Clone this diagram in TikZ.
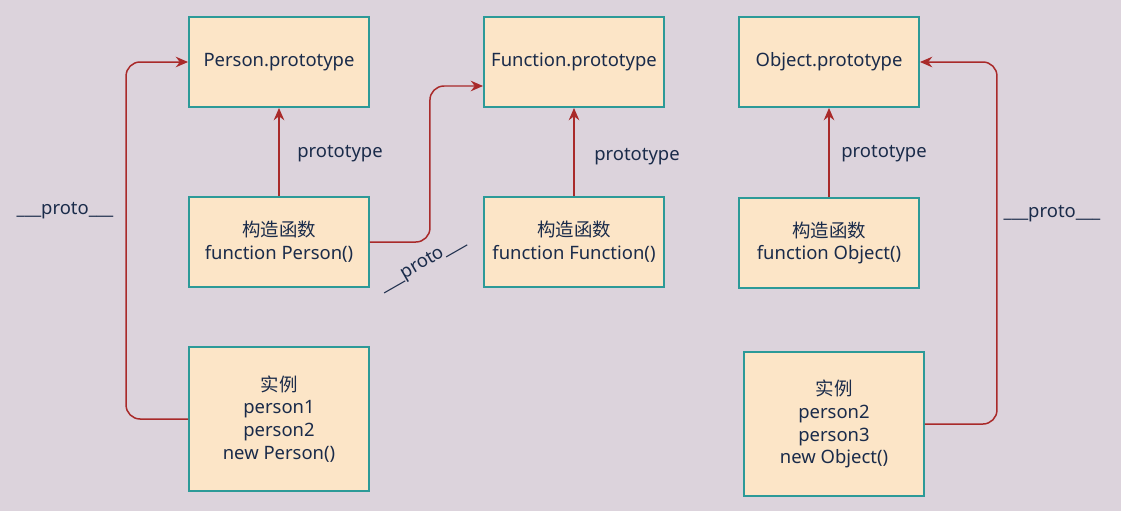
\documentclass[tikz,border=0pt]{standalone}
\usepackage{fontspec}
\setmainfont{Noto Sans}
\newfontfamily\cjk{Noto Sans CJK SC}
\usetikzlibrary{arrows.meta,calc}

\definecolor{bgcol}{HTML}{DCD3DC}
\definecolor{boxfill}{HTML}{FCE5C7}
\definecolor{boxline}{HTML}{2C9A98}
\definecolor{arrcol}{HTML}{A92A2A}
\definecolor{txtcol}{HTML}{1A2B4A}

\tikzset{
  objbox/.style={draw=boxline,fill=boxfill,line width=1.1pt,minimum width=3.6cm,
    minimum height=1.8cm,align=center,text=txtcol,inner sep=2pt,
    font=\fontsize{10.5}{13}\selectfont},
  arr/.style={draw=arrcol,line width=0.85pt,-{Stealth[length=7pt,width=6pt]},rounded corners=8pt},
  lbl/.style={text=txtcol,font=\fontsize{10.5}{12}\selectfont}
}

\begin{document}
\begin{tikzpicture}[x=0.02cm,y=-0.02cm]
    \fill[bgcol] (0,0) rectangle (1121,511);
    \useasboundingbox (0,0) rectangle (1121,511);

    % Prototypes
    \node[objbox] (pproto) at (279,62) {Person.prototype};
    \node[objbox] (fproto) at (574,62) {Function.prototype};
    \node[objbox] (oproto) at (829,62) {Object.prototype};

    % Constructors
    \node[objbox] (pctor) at (279,242) {{\cjk 构造函数}\\function Person()};
    \node[objbox] (fctor) at (574,242) {{\cjk 构造函数}\\function Function()};
    \node[objbox] (octor) at (829,243) {{\cjk 构造函数}\\function Object()};

    % Instances
    \node[objbox,minimum height=2.88cm] (pinst) at (279,419) {{\cjk 实例}\\person1\\person2\\new Person()};
    \node[objbox,minimum height=2.88cm] (oinst) at (834,424) {{\cjk 实例}\\person2\\person3\\new Object()};

    % Arrows
    \draw[arr] (pctor.north) -- (pproto.south);
    \draw[arr] (fctor.north) -- (fproto.south);
    \draw[arr] (octor.north) -- (oproto.south);
    \draw[arr] (pctor.east) -- ++(60,0) |- ([yshift=-0.48cm]fproto.west);
    \draw[arr] (pinst.west) -- ++(-62,0) |- (pproto.west);
    \draw[arr] (oinst.east) -- ++(72,0) |- (oproto.east);

    % Labels
    \node[lbl] (l1) at (340,154) {prototype};
    \node[lbl] (l2) at (637,157) {prototype};
    \node[lbl] (l3) at (884,154) {prototype};
    \node[lbl] (l4) at (65,211) {\_\_\_proto\_\_\_};
    \node[lbl] (l5) at (1052,214) {\_\_\_proto\_\_\_};
    \node[lbl,rotate=30] (l6) at (423,264) {\_\_\_proto\_\_\_};
\end{tikzpicture}
\end{document}
